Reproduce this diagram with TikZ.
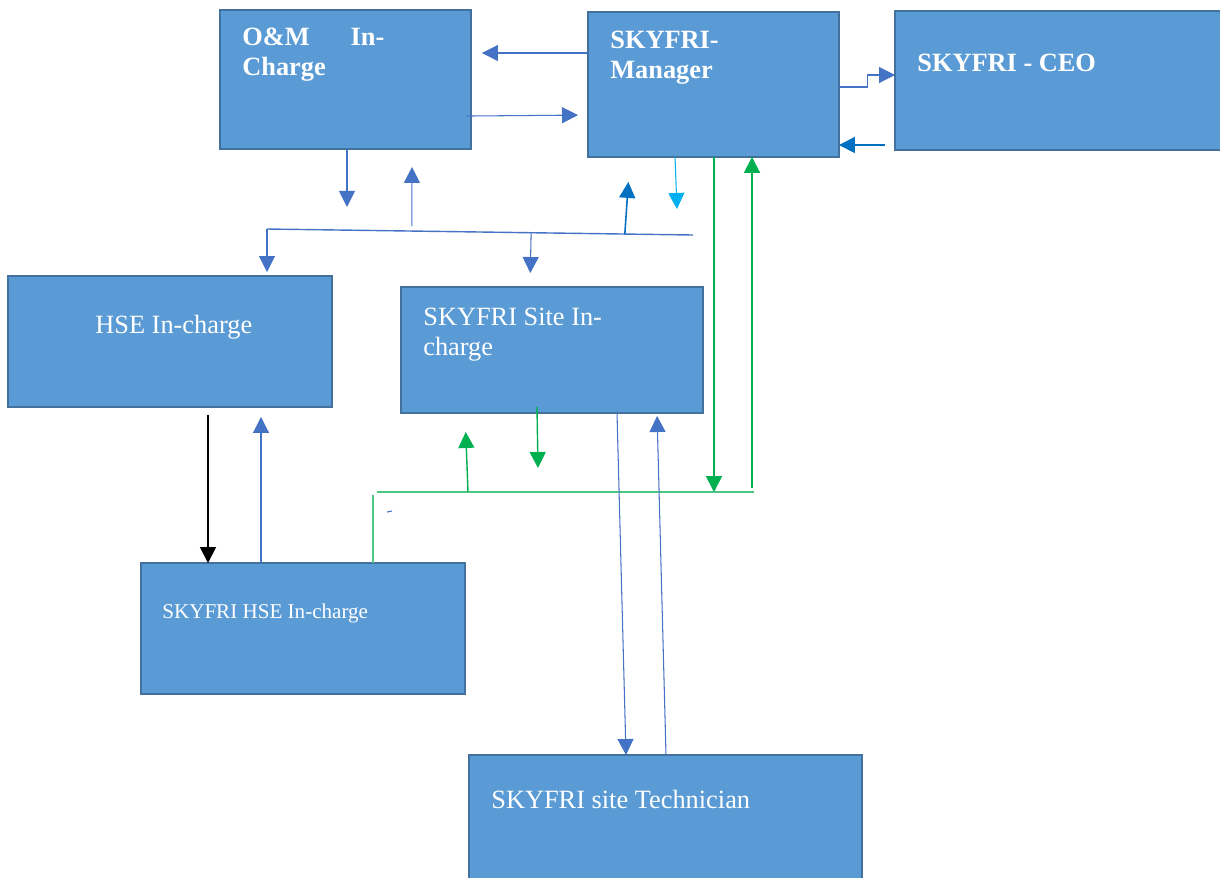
\documentclass[tikz,border=0pt]{standalone}
\usepackage{fontspec}
\setmainfont{Liberation Serif}
\usetikzlibrary{arrows.meta,calc}
\definecolor{boxfill}{HTML}{5B9BD5}
\definecolor{boxline}{HTML}{41719C}
\definecolor{lnblue}{HTML}{4472C4}
\definecolor{dkblue}{HTML}{0070C0}
\definecolor{ltblue}{HTML}{00B0F0}
\definecolor{grn}{HTML}{00B050}
\colorlet{grnlt}{grn!70!white}

\begin{document}
\begin{tikzpicture}[x=0.02cm, y=-0.02cm,
	box/.style={draw=boxline, fill=boxfill, line width=1.5pt, anchor=north west, inner sep=0pt, outer sep=0pt},
	txt/.style={anchor=north west, inner sep=0pt, text=white, align=left, font=\fontsize{15}{17}\selectfont},
	tip/.style={-{Triangle[length=0.32cm,width=0.32cm]}},
	link/.style={lnblue, line width=0.6pt, tip},
	glink/.style={grn, line width=1.1pt, tip}]
	\useasboundingbox (0,0) rectangle (1220,877);
	% The boxes
	\node[box, minimum width=5.02cm, minimum height=2.78cm] (om) at (220,10) {};
	\node[box, minimum width=5.02cm, minimum height=2.9cm] (mgr) at (588,12) {};
	\node[box, minimum width=6.8cm, minimum height=2.78cm] (ceo) at (895,11) {};
	\node[box, minimum width=6.48cm, minimum height=2.62cm] (hse) at (8,276) {};
	\node[box, minimum width=6.04cm, minimum height=2.52cm] (site) at (401,287) {};
	\node[box, minimum width=6.48cm, minimum height=2.62cm] (shse) at (141,563) {};
	\node[box, minimum width=7.86cm, minimum height=3.2cm] (tech) at (469,755) {};
	% Texts of the boxes
	\node[txt, font=\fontsize{15}{17}\selectfont\bfseries] (omtext) at (242,28) {O\&M\hspace{0.82cm}In-\\Charge};
	\node[txt, font=\fontsize{15}{17}\selectfont\bfseries] (mgrtext) at (610,31) {SKYFRI-\\Manager};
	\node[txt, font=\fontsize{15}{17}\selectfont\bfseries] (ceotext) at (917,54) {SKYFRI - CEO};
	\node[txt] (hsetext) at (95,315) {HSE In-charge};
	\node[txt] (sitetext) at (423,308) {SKYFRI Site In-\\charge};
	\node[txt, font=\fontsize{12}{14}\selectfont] (shsetext) at (162,604) {SKYFRI HSE In-charge};
	\node[txt] (techtext) at (491,790) {SKYFRI site Technician};
	% Between O&M, manager and CEO
	\draw[link, shorten >=0.22cm] (mgr.west |- 0,53) -- (om.east |- 0,53);
	\draw[link, shorten <=-0.1cm, shorten >=0.2cm] (om.east |- 0,116) -- (mgr.west |- 0,115);
	\draw[link] (mgr.east |- 0,87) -- ++(29,0) |- (ceo.west |- 0,75);
	\draw[link, dkblue, line width=0.9pt, shorten <=0.2cm] (ceo.west |- 0,145) -- (mgr.east |- 0,145);
	% The blue bus under O&M and manager
	\coordinate (busw) at (267,229);
	\coordinate (buse) at (693,235);
	\draw[lnblue, line width=0.8pt] (busw) -- (buse);
	\draw[link, shorten >=0.08cm] (busw) -- (hse.north -| busw);
	\draw[link, shorten >=0.28cm] ($(busw)!0.62!(buse)$) -- (site.north -| 530,0);
	\draw[link] (om.south -| 347,0) -- ++(0,58);
	\draw[link, shorten <=0.1cm, shorten >=0.36cm] ($(busw)!0.34!(buse)$) -- (om.south -| 412,0);
	\draw[link, dkblue, line width=0.9pt, shorten >=0.5cm] ($(busw)!0.84!(buse)$) -- (mgr.south -| 630,0);
	\draw[link, ltblue] (mgr.south -| 675,0) -- ++(2,52);
	% The green bus
	\coordinate (gw) at (377,492);
	\coordinate (ge) at (754,492);
	\draw[grnlt, line width=0.8pt] (gw) -- (ge);
	\draw[glink] (mgr.south -| 714,0) -- (gw -| 714,0);
	\draw[glink] (752,488) -- (mgr.south -| 752,0);
	\draw[glink, line width=0.8pt, shorten >=0.38cm] (gw -| 468,0) -- (site.south -| 465,0);
	\draw[glink, line width=0.8pt] (site.south -| 537,0) ++(0,-6) -- ++(1,61);
	\draw[grnlt, line width=0.8pt] (shse.north -| 373,0) -- (373,495);
	\draw[lnblue, line width=0.6pt] (387,512) -- (392,511);
	% HSE and SKYFRI HSE
	\draw[black, line width=1pt, tip, shorten <=0.16cm] (hse.south -| 208,0) -- (shse.north -| 208,0);
	\draw[link, shorten >=0.2cm] (shse.north -| 261,0) -- (hse.south -| 261,0);
	% Site in-charge and technician
	\draw[link] (site.south -| 617,0) -- (tech.north -| 626,0);
	\draw[link, shorten >=0.06cm] (tech.north -| 666,0) -- (site.south -| 657,0);
\end{tikzpicture}
\end{document}
